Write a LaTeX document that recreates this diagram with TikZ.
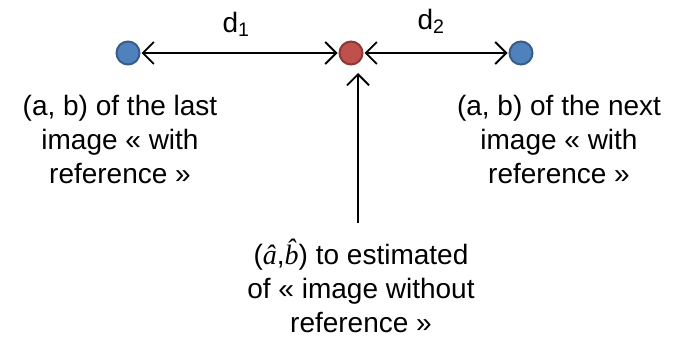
\RequirePackage{fix-cm}
\documentclass[tikz,border=0pt]{standalone}
\usepackage{fontspec}
\setmainfont{Liberation Sans}
\newfontfamily\varserif{Liberation Serif}
\usetikzlibrary{arrows.meta}
\definecolor{bluefill}{HTML}{4F81BD}
\definecolor{blueline}{HTML}{385D8A}
\definecolor{redfill}{HTML}{C0504D}
\definecolor{redline}{HTML}{8C3836}
\newcommand{\hatvar}[1]{{\varserif\itshape\^{#1}}}
\tikzset{
  dot/.style={circle, minimum size=23pt, inner sep=0pt, line width=2pt},
  bluedot/.style={dot, fill=bluefill, draw=blueline},
  reddot/.style={dot, fill=redfill, draw=redline},
  conn/.style={line width=1.5pt, draw=black},
  barb/.tip={Straight Barb[length=11pt, width=22pt, line width=1.8pt]},
  lbl/.style={align=center, font=\fontsize{28}{34}\selectfont, inner sep=0pt},
}
\begin{document}
\begin{tikzpicture}[x=1pt, y=-1pt]
\useasboundingbox (0,0) rectangle (681,345);
\node[bluedot] (L) at (128,53) {};
\node[reddot] (M) at (351,53) {};
\node[bluedot] (R) at (521,53) {};
\draw[conn, barb-barb, shorten <=1pt, shorten >=1pt] (L) -- (M);
\draw[conn, barb-barb, shorten <=1pt, shorten >=1pt] (M) -- (R);
\node[lbl] (d1) at (236,24) {d\textsubscript{1}};
\node[lbl] (d2) at (431,21) {d\textsubscript{2}};
\node[lbl] (lt) at (120,139) {(a, b) of the last\\image « with\\reference »};
\node[lbl] (rt) at (559,139) {(a, b) of the next\\image « with\\reference »};
\node[lbl] (bt) at (361,286) {(\hatvar{a},\hatvar{b}) to estimated\\of « image without\\reference »};
\coordinate (vb) at (358,223);
\coordinate (vt) at (358,73);
\draw[conn, -barb] (vb) -- (vt);
\end{tikzpicture}
\end{document}
